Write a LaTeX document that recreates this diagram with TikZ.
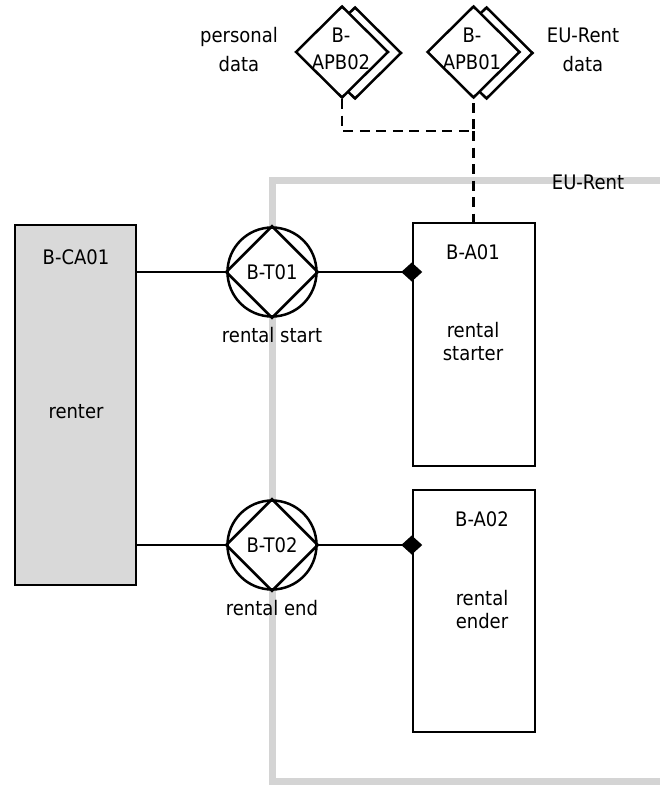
\documentclass[tikz,border=0pt]{standalone}
\usepackage{fontspec}
\setmainfont{DejaVu Sans Condensed}
\usetikzlibrary{shapes.geometric,arrows.meta}
\definecolor{bordergray}{RGB}{212,212,212}
\definecolor{actorgray}{RGB}{217,217,217}
\begin{document}
\begin{tikzpicture}[x=1pt,y=-1pt,line width=2.5pt,
  font=\fontsize{20}{24}\selectfont,
  box/.style={draw,rectangle,inner sep=0pt},
  trans/.style={draw,circle,fill=white,inner sep=0pt,minimum size=89pt},
  bank/.style={draw,diamond,fill=white,inner sep=0pt,minimum width=93pt,minimum height=92pt},
  lbl/.style={inner sep=0pt,align=center},
  agg/.style={-{Diamond[length=21pt,width=19pt,sep=0pt]},shorten >=-10.5pt},
  dashline/.style={line width=2.8pt,dash pattern=on 10pt off 6.5pt}]
\useasboundingbox (0,0) rectangle (660,789);
% system boundary
\coordinate (b1) at (660,180);
\coordinate (b2) at (272,180);
\coordinate (b3) at (272,781);
\coordinate (b4) at (660,781);
\draw[line width=7pt,color=bordergray] (b1) -- (b2) -- (b3) -- (b4);
\node[lbl] (eur) at (588,182) {EU-Rent};
% actor boxes
\node[box,fill=actorgray,minimum width=121pt,minimum height=360pt] (ca) at (75.5,405) {};
\node[lbl] (catxt) at (76,257) {B-CA01};
\node[lbl] (ren) at (76,412) {renter};
\node[box,fill=white,minimum width=122pt,minimum height=243pt] (a1) at (474,344.5) {};
\node[lbl] (a1id) at (473,252) {B-A01};
\node[lbl,font=\fontsize{20}{23}\selectfont] (a1t) at (473,342) {rental\\starter};
\node[box,fill=white,minimum width=122pt,minimum height=242pt] (a2) at (474,611) {};
\node[lbl] (a2id) at (482,519) {B-A02};
\node[lbl,font=\fontsize{20}{23}\selectfont] (a2t) at (482,610) {rental\\ender};
% transactions
\node[trans] (t1) at (272,272) {};
\draw (t1.north) -- (t1.east) -- (t1.south) -- (t1.west) -- cycle;
\node[lbl] (t1id) at (272,272) {B-T01};
\node[lbl] (t1t) at (272,335) {rental start};
\node[trans] (t2) at (272,545) {};
\draw (t2.north) -- (t2.east) -- (t2.south) -- (t2.west) -- cycle;
\node[lbl] (t2id) at (272,545) {B-T02};
\node[lbl] (t2t) at (272,608) {rental end};
% connectors
\draw (ca.east |- t1) -- (t1.west);
\draw[agg] (t1.east) -- (a1.west |- t1);
\draw (ca.east |- t2) -- (t2.west);
\draw[agg] (t2.east) -- (a2.west |- t2);
% production banks
\node[bank] (p2s) at (355,53) {};
\node[bank] (p2) at (342,52) {};
\node[lbl,font=\fontsize{20}{27}\selectfont] (p2t) at (341,49) {B-\\APB02};
\node[bank] (p1s) at (486.5,53) {};
\node[bank] (p1) at (473.5,52) {};
\node[lbl,font=\fontsize{20}{27}\selectfont] (p1t) at (472,49) {B-\\APB01};
\node[lbl,font=\fontsize{20}{29}\selectfont] (pd) at (239,50) {personal\\data};
\node[lbl,font=\fontsize{20}{29}\selectfont] (ed) at (583,50) {EU-Rent\\data};
\coordinate (j) at (473.5,131);
\draw[dashline] (p2.south) |- (j) -- (p1.south);
\draw[dashline] (j) -- (j |- a1.north);
\end{tikzpicture}
\end{document}
